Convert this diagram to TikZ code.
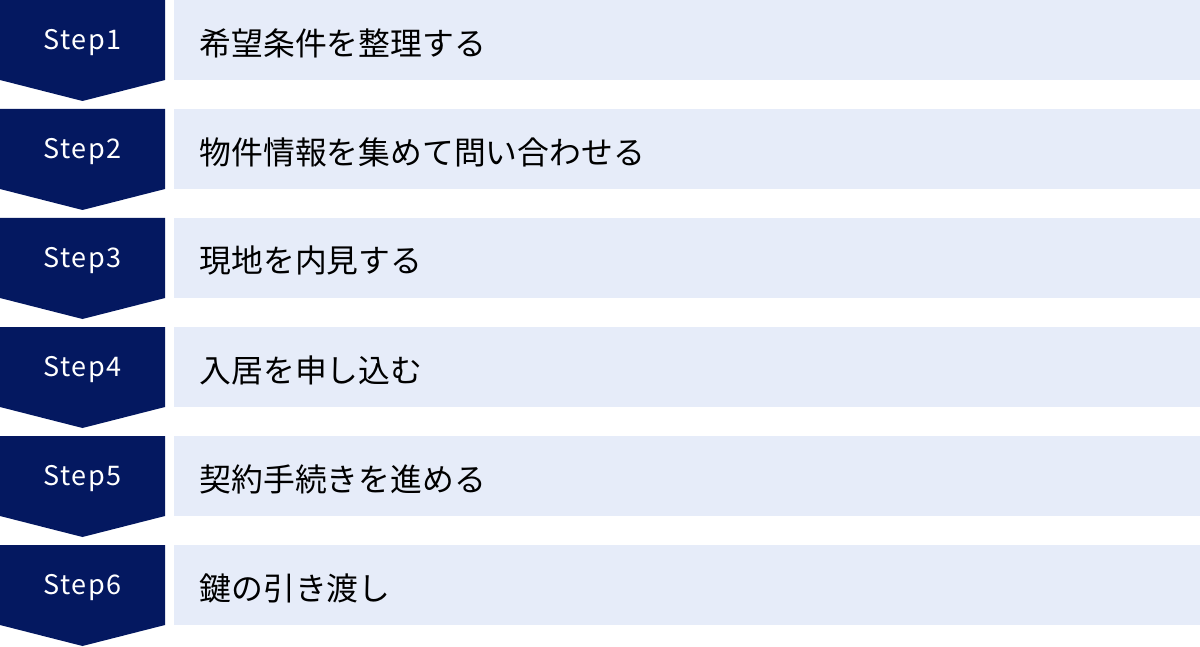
\documentclass[tikz,border=0pt]{standalone}
\usepackage{fontspec}
\setmainfont{Noto Sans CJK JP}
\newfontfamily\stepfont[LetterSpace=6]{Noto Sans CJK JP}
\definecolor{navy}{RGB}{4,24,96}
\definecolor{lightbox}{RGB}{230,236,249}
\begin{document}
\begin{tikzpicture}[x=1pt,y=-1pt,
  badge/.style={fill=navy,draw=none},
  stepbox/.style={fill=lightbox,draw=none},
  steplabel/.style={text=white,font=\stepfont\fontsize{27}{32}\selectfont,inner sep=0pt},
  tasklabel/.style={text=black,font=\fontsize{31.8}{36}\selectfont,anchor=west,inner sep=0pt}]
\useasboundingbox (0,0) rectangle (1200,647);
\foreach \i/\t in {1/希望条件を整理する,2/物件情報を集めて問い合わせる,3/現地を内見する,4/入居を申し込む,5/契約手続きを進める,6/鍵の引き渡し}{
  \pgfmathsetmacro{\yy}{(\i-1)*109}
  \begin{scope}[yshift={-\yy pt}]
    \fill[badge] (0,0) -- (165,0) -- (165,80) -- (82.5,101) -- (0,80) -- cycle;
    \fill[stepbox] (174,0) rectangle (1200,80);
    \node[steplabel] (s\i) at (82.5,43) {Step\i};
    \node[tasklabel] (t\i) at (199.5,43) {\t};
  \end{scope}
}
\end{tikzpicture}
\end{document}
